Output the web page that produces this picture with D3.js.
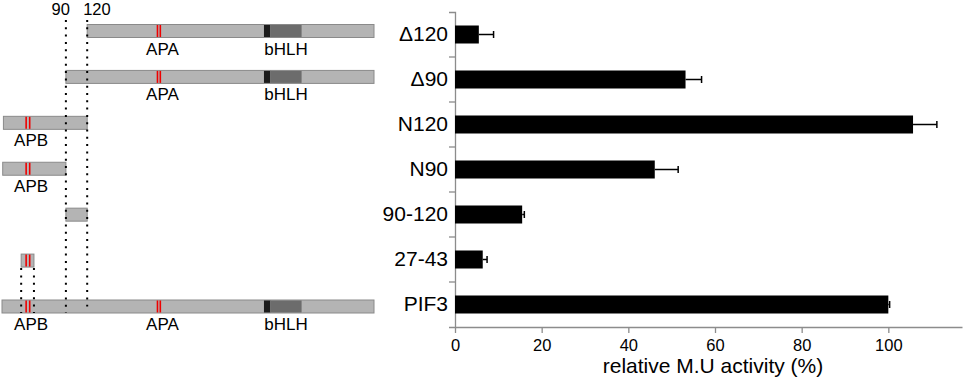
<!DOCTYPE html>
<html>
<head>
<meta charset="utf-8">
<script src="https://cdn.jsdelivr.net/npm/d3@7"></script>
<style>
  body { margin: 0; background: #fff; }
  svg { display: block; font-family: "Liberation Sans", Arial, sans-serif; }
</style>
</head>
<body>
<div class="figure"></div>
<script>
// constructs (rows, top to bottom) and their reporter activity
const categories = ['Δ120', 'Δ90', 'N120', 'N90', '90-120', '27-43', 'PIF3'];
const activity = [5.5, 53.2, 105.7, 46.1, 15.5, 6.4, 100];
const activityErr = [3.4, 3.7, 5.5, 5.4, 0.5, 1.0, 0.3];
const xTicks = [0, 20, 40, 60, 80, 100];

// construct extents in amino acids (PIF3 = 524 aa)
const proteinLength = 524;
const constructStart = [120, 90, 2, 1, 90, 27, 0];
const constructEnd = [524, 524, 120, 90, 120, 45, 524];
const showLabels = [true, true, true, true, false, false, true];

// motifs: two red marks each
const motifNames = ['APB', 'APA'];
const motifMarks = [[34, 39], [219, 223]];
const motifLabelAt = [41, 226];
const bhlhBasic = [369, 378];
const bhlhHelix = [378, 422];
const bhlhLabelAt = 400;
const cutSites = [90, 120];

const svgWidth = 964,
  svgHeight = 380;

const svg = d3.select('.figure')
  .append('svg')
  .attr('width', svgWidth)
  .attr('height', svgHeight);

/* ---------- left: construct schematic ---------- */
const xAA = d3.scaleLinear()
  .domain([0, proteinLength])
  .range([2, 374]);

const rowY = d3.scalePoint()
  .domain(categories)
  .range([31, 306.5]);

const barH = 13;
const labelSize = '17px';
const rows = categories.map((c, i) => ({
  name: c, start: constructStart[i], end: constructEnd[i], label: showLabels[i]
}));

const diagram = svg.append('g');

diagram.selectAll('rect.construct')
  .data(rows)
  .join('rect')
  .attr('class', 'construct')
  .attr('x', d => xAA(d.start))
  .attr('y', d => rowY(d.name) - barH / 2)
  .attr('width', d => xAA(d.end) - xAA(d.start))
  .attr('height', barH)
  .attr('fill', '#b4b4b4')
  .attr('stroke', '#8a8a8a')
  .attr('stroke-width', 1);

const inside = (d, a, b) => a >= d.start && b <= d.end;

// bHLH domain
rows.filter(d => inside(d, bhlhBasic[0], bhlhHelix[1])).forEach(d => {
  const yTop = rowY(d.name) - barH / 2 + 0.5;
  diagram.append('rect')
    .attr('x', xAA(bhlhBasic[0])).attr('y', yTop)
    .attr('width', xAA(bhlhBasic[1]) - xAA(bhlhBasic[0])).attr('height', barH - 1)
    .attr('fill', '#1c1c1c');
  diagram.append('rect')
    .attr('x', xAA(bhlhHelix[0])).attr('y', yTop)
    .attr('width', xAA(bhlhHelix[1]) - xAA(bhlhHelix[0])).attr('height', barH - 1)
    .attr('fill', '#6c6c6c');
  diagram.append('text')
    .attr('x', xAA(bhlhLabelAt))
    .attr('y', rowY(d.name) + barH / 2 + 17)
    .attr('text-anchor', 'middle')
    .style('font-size', labelSize)
    .text('bHLH');
});

// APB / APA red marks
motifNames.forEach((name, m) => {
  const marks = motifMarks[m];
  rows.filter(d => inside(d, marks[0], marks[1])).forEach(d => {
    diagram.selectAll(null)
      .data(marks)
      .join('line')
      .attr('x1', a => xAA(a)).attr('x2', a => xAA(a))
      .attr('y1', rowY(d.name) - barH / 2 + 0.5)
      .attr('y2', rowY(d.name) + barH / 2 - 0.5)
      .attr('stroke', '#ee0000')
      .attr('stroke-width', 1.6);
    if (d.label) {
      diagram.append('text')
        .attr('x', xAA(motifLabelAt[m]))
        .attr('y', rowY(d.name) + barH / 2 + 17)
        .attr('text-anchor', 'middle')
        .style('font-size', labelSize)
        .text(name);
    }
  });
});

// dotted guide lines
const dotted = g => g
  .attr('stroke', '#000')
  .attr('stroke-width', 2)
  .attr('stroke-dasharray', '2 5.3');

const bottomRow = categories[categories.length - 1];
const peptideRow = '27-43';
const pepIdx = categories.indexOf(peptideRow);

diagram.selectAll('line.cut')
  .data(cutSites)
  .join('line')
  .attr('class', 'cut')
  .attr('x1', d => xAA(d)).attr('x2', d => xAA(d))
  .attr('y1', 20)
  .attr('y2', (d, i) => rowY(bottomRow) + (i === 0 ? 6 : 0))
  .call(dotted);

diagram.selectAll('line.pep')
  .data([constructStart[pepIdx], constructEnd[pepIdx]])
  .join('line')
  .attr('class', 'pep')
  .attr('x1', d => xAA(d)).attr('x2', d => xAA(d))
  .attr('y1', rowY(peptideRow) + barH / 2 + 1)
  .attr('y2', rowY(bottomRow) + barH / 2)
  .call(dotted);

diagram.selectAll('text.cut')
  .data(cutSites)
  .join('text')
  .attr('class', 'cut')
  .attr('x', (d, i) => xAA(d) + (i === 0 ? 4 : -4))
  .attr('y', 15)
  .attr('text-anchor', (d, i) => i === 0 ? 'end' : 'start')
  .style('font-size', '16.5px')
  .text(d => d);

/* ---------- right: bar chart ---------- */
const axisColor = '#8c8c8c';

const yScale = d3.scaleBand()
  .domain(categories)
  .range([12, 327])
  .paddingInner(0.6)
  .paddingOuter(0.3);

const xScale = d3.scaleLinear()
  .domain([0, 117])
  .range([455, 962]);

const yAxis = d3.axisLeft(yScale).tickSize(0).tickSizeOuter(6).tickPadding(7);
const xAxis = d3.axisBottom(xScale).tickValues(xTicks).tickSize(6).tickSizeOuter(0).tickPadding(6);

const gy = svg.append('g')
  .attr('transform', `translate(${xScale(0)}, 0)`)
  .call(yAxis);
gy.selectAll('text').style('font-size', '21px').attr('fill', '#000');
gy.select('.domain').attr('stroke', axisColor).attr('stroke-width', 1.3);

// separators between categories
gy.selectAll('line.sep')
  .data(categories.slice(1))
  .join('line')
  .attr('class', 'sep')
  .attr('x1', -6).attr('x2', 0)
  .attr('y1', d => yScale(d) - yScale.step() * yScale.paddingInner() / 2)
  .attr('y2', d => yScale(d) - yScale.step() * yScale.paddingInner() / 2)
  .attr('stroke', axisColor)
  .attr('stroke-width', 1.3);

const gx = svg.append('g')
  .attr('transform', `translate(0, 327)`)
  .call(xAxis);
gx.selectAll('text').style('font-size', '16.5px').attr('fill', '#000');
gx.selectAll('line').attr('stroke', axisColor).attr('stroke-width', 1.3);
gx.select('.domain').attr('stroke', axisColor).attr('stroke-width', 1.3);

svg.append('text')
  .attr('x', 713)
  .attr('y', 373)
  .attr('text-anchor', 'middle')
  .style('font-size', '21px')
  .text('relative M.U activity (%)');

const bars = categories.map((c, i) => ({ name: c, v: activity[i], e: activityErr[i] }));

svg.selectAll('rect.bar')
  .data(bars)
  .join('rect')
  .attr('class', 'bar')
  .attr('x', xScale(0))
  .attr('y', d => yScale(d.name))
  .attr('width', d => xScale(d.v) - xScale(0))
  .attr('height', yScale.bandwidth())
  .attr('fill', '#000');

const err = svg.selectAll('g.err')
  .data(bars)
  .join('g')
  .attr('class', 'err')
  .attr('stroke', '#000')
  .attr('stroke-width', 1.5);

err.append('line')
  .attr('x1', d => xScale(d.v))
  .attr('x2', d => xScale(d.v + d.e))
  .attr('y1', d => yScale(d.name) + yScale.bandwidth() / 2)
  .attr('y2', d => yScale(d.name) + yScale.bandwidth() / 2);

err.append('line')
  .attr('x1', d => xScale(d.v + d.e))
  .attr('x2', d => xScale(d.v + d.e))
  .attr('y1', d => yScale(d.name) + yScale.bandwidth() / 2 - 3.5)
  .attr('y2', d => yScale(d.name) + yScale.bandwidth() / 2 + 3.5);
</script>
</body>
</html>
